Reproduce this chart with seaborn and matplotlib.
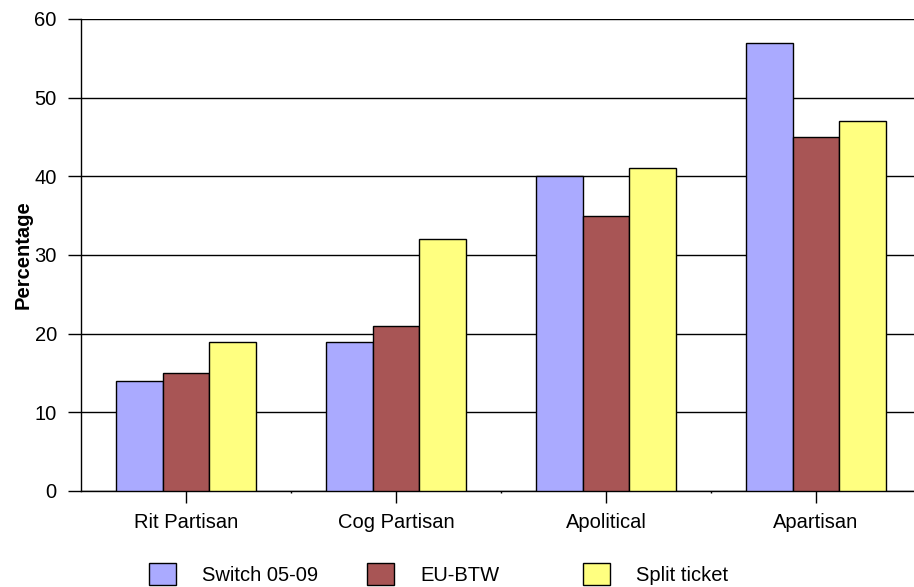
import matplotlib
matplotlib.use("Agg")
import matplotlib.pyplot as plt
import seaborn as sns
import pandas as pd
from matplotlib.patches import Patch

categories = ["Rit Partisan", "Cog Partisan", "Apolitical", "Apartisan"]
series = ["Switch 05-09", "EU-BTW", "Split ticket"]
switch_vals = [14, 19, 40, 57]
eubtw_vals = [15, 21, 35, 45]
split_vals = [19, 32, 41, 47]
colors = ["#AAAAFF", "#A85555", "#FFFF80"]

rows = []
for s, vals in zip(series, [switch_vals, eubtw_vals, split_vals]):
    for c, v in zip(categories, vals):
        rows.append({"Category": c, "Series": s, "Value": v})
df = pd.DataFrame(rows)

sns.set_theme(style="white")
plt.rcParams['font.family'] = ['Liberation Sans', 'DejaVu Sans']
plt.rcParams['text.color'] = 'black'
plt.rcParams['axes.labelcolor'] = 'black'
plt.rcParams['xtick.color'] = 'black'
plt.rcParams['ytick.color'] = 'black'

FS = 14.5
W, H = 914, 587
fig = plt.figure(figsize=(W / 100, H / 100), dpi=100)
ax = fig.add_axes([81 / W, (H - 491) / H, (921 - 81) / W, (491 - 19) / H])

sns.barplot(data=df, x="Category", y="Value", hue="Series", order=categories,
            hue_order=series, palette=colors, width=0.67, edgecolor="black",
            linewidth=1, saturation=1, ax=ax, legend=False, zorder=3)

ax.set_ylim(0, 60)
ax.set_yticks(range(0, 61, 10))
ax.set_xlim(-0.5, 3.5)
ax.set_xticks([0.5, 1.5, 2.5], minor=True)
ax.yaxis.grid(True, color="black", linewidth=1, zorder=0)
ax.set_axisbelow(True)
for sp in ["top", "right"]:
    ax.spines[sp].set_visible(False)
ax.spines["left"].set_color("black")
ax.spines["left"].set_linewidth(1)
ax.spines["bottom"].set_color("black")
ax.spines["bottom"].set_linewidth(1)
ax.tick_params(axis="y", which="major", length=9.4, width=1, color="black",
               labelsize=FS, pad=8, left=True, direction="out")
ax.tick_params(axis="x", which="major", length=8.6, width=1, color="black",
               labelsize=FS, pad=7, bottom=True, direction="out")
ax.tick_params(axis="x", which="minor", length=1.5, width=1, color="black",
               bottom=True, direction="out")
ax.set_xlabel("")
ax.set_ylabel("Percentage", fontsize=FS, fontweight="bold", labelpad=1)

# legend entries
xs = [149, 367, 583]
for lab, col, x in zip(series, colors, xs):
    fig.legend(handles=[Patch(facecolor=col, edgecolor="black", linewidth=1, label=lab)],
               loc="center left", bbox_to_anchor=(x / W, (H - 574) / H),
               frameon=False, fontsize=FS, handlelength=1.34, handleheight=1.34,
               handletextpad=1.3, borderpad=0, borderaxespad=0)

fig.savefig("out.png", dpi=100)
